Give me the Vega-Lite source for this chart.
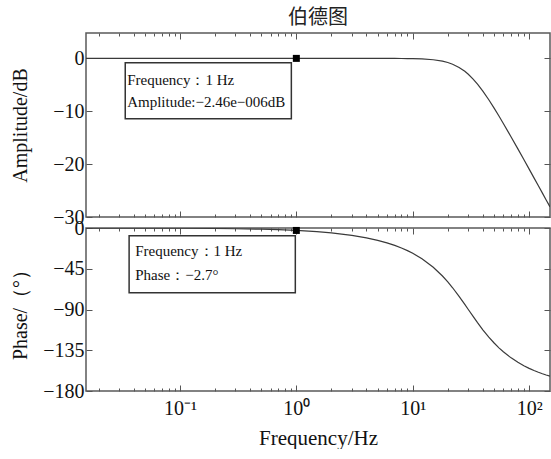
{
  "$schema": "https://vega.github.io/schema/vega-lite/v6.json",
  "background": "white",
  "padding": {"left": 9, "top": 6, "right": 0, "bottom": 0},
  "spacing": 11,
  "bounds": "flush",
  "config": {
    "view": {"stroke": "#5a5a5a", "strokeWidth": 1.5},
    "axis": {
      "domain": false, "grid": false, "tickColor": "#555", "tickWidth": 1,
      "labelFont": "Liberation Serif", "titleFont": "Liberation Serif",
      "labelColor": "#111", "titleColor": "#111",
      "labelFontSize": 20, "titleFontSize": 20, "titleFontWeight": "normal"
    }
  },
  "datasets": {
    "bode": [
      {"f": 0.0156, "amp": 0, "phase": -0.04},
      {"f": 0.02, "amp": 0, "phase": -0.05},
      {"f": 0.03, "amp": 0, "phase": -0.08},
      {"f": 0.05, "amp": 0, "phase": -0.14},
      {"f": 0.1, "amp": 0, "phase": -0.27},
      {"f": 0.2, "amp": 0, "phase": -0.54},
      {"f": 0.3, "amp": 0, "phase": -0.81},
      {"f": 0.5, "amp": 0, "phase": -1.35},
      {"f": 0.7, "amp": 0, "phase": -1.89},
      {"f": 1, "amp": 0, "phase": -2.70},
      {"f": 1.5, "amp": 0, "phase": -4.06},
      {"f": 2, "amp": 0, "phase": -5.41},
      {"f": 3, "amp": 0, "phase": -8.13},
      {"f": 4, "amp": -0.001, "phase": -10.87},
      {"f": 5, "amp": -0.003, "phase": -13.63},
      {"f": 6, "amp": -0.007, "phase": -16.42},
      {"f": 7, "amp": -0.013, "phase": -19.25},
      {"f": 8, "amp": -0.022, "phase": -22.11},
      {"f": 9, "amp": -0.035, "phase": -25.0},
      {"f": 10, "amp": -0.053, "phase": -27.94},
      {"f": 12, "amp": -0.110, "phase": -33.95},
      {"f": 15, "amp": -0.263, "phase": -43.31},
      {"f": 18, "amp": -0.530, "phase": -52.98},
      {"f": 20, "amp": -0.782, "phase": -59.51},
      {"f": 22, "amp": -1.104, "phase": -65.98},
      {"f": 25, "amp": -1.709, "phase": -75.47},
      {"f": 28, "amp": -2.453, "phase": -84.42},
      {"f": 30, "amp": -3.010, "phase": -90.0},
      {"f": 33, "amp": -3.917, "phase": -97.69},
      {"f": 36, "amp": -4.877, "phase": -104.53},
      {"f": 40, "amp": -6.192, "phase": -112.42},
      {"f": 45, "amp": -7.826, "phase": -120.51},
      {"f": 50, "amp": -9.403, "phase": -127.02},
      {"f": 55, "amp": -10.898, "phase": -132.32},
      {"f": 60, "amp": -12.304, "phase": -136.69},
      {"f": 70, "amp": -14.863, "phase": -143.41},
      {"f": 80, "amp": -17.124, "phase": -148.32},
      {"f": 90, "amp": -19.138, "phase": -152.06},
      {"f": 100, "amp": -20.950, "phase": -155.0},
      {"f": 110, "amp": -22.595, "phase": -157.38},
      {"f": 120, "amp": -24.099, "phase": -159.34},
      {"f": 130, "amp": -25.485, "phase": -160.98},
      {"f": 140, "amp": -26.770, "phase": -162.38},
      {"f": 151, "amp": -28.081, "phase": -163.70}
    ],
    "boxA": [{"x1": 0.0339, "x2": 0.906, "y1": -0.81, "y2": -11.41}],
    "textA": [
      {"x": 0.0352, "y": -4.03, "label": "Frequency：1 Hz"},
      {"x": 0.0352, "y": -8.19, "label": "Amplitude:−2.46e−006dB"}
    ],
    "markA": [{"f": 1, "amp": 0}],
    "boxB": [{"x1": 0.0366, "x2": 0.98, "y1": -8.5, "y2": -71.4}],
    "textB": [
      {"x": 0.0413, "y": -25, "label": "Frequency：1 Hz"},
      {"x": 0.0413, "y": -51.5, "label": "Phase：−2.7°"}
    ],
    "markB": [{"f": 1, "phase": -2.7}]
  },
  "vconcat": [
    {
      "width": 464,
      "height": 184,
      "title": {"text": "伯德图", "font": "Noto Sans CJK SC", "fontSize": 20, "fontWeight": "normal", "color": "#222", "frame": "group", "anchor": "middle", "offset": 5},
      "layer": [
        {
          "data": {"name": "bode"},
          "mark": {"type": "line", "color": "#3a3a3a", "strokeWidth": 1.2, "clip": true},
          "encoding": {
            "x": {"field": "f", "type": "quantitative",
              "scale": {"type": "log", "domain": [0.0156, 151], "nice": false},
              "axis": {"orient": "bottom", "labels": false, "title": null, "minExtent": 0, "maxExtent": 0,
                "values": [0.02,0.03,0.04,0.05,0.06,0.07,0.08,0.09,0.1,0.2,0.3,0.4,0.5,0.6,0.7,0.8,0.9,1,2,3,4,5,6,7,8,9,10,20,30,40,50,60,70,80,90,100],
                "tickSize": {"condition": {"test": "datum.value == 0.1 || datum.value == 1 || datum.value == 10 || datum.value == 100", "value": -6}, "value": -3}}},
            "y": {"field": "amp", "type": "quantitative",
              "scale": {"domain": [-30, 4.8], "nice": false, "zero": false},
              "axis": {"orient": "left", "values": [-30, -20, -10, 0], "tickSize": -6, "labelPadding": 8,
                "title": "Amplitude/dB", "titlePadding": 8, "minExtent": 48, "maxExtent": 48}}
          }
        },
        {
          "data": {"name": "boxA"},
          "mark": {"type": "rect", "fill": "white", "stroke": "#333", "strokeWidth": 1.5},
          "encoding": {
            "x": {"field": "x1", "type": "quantitative", "axis": null},
            "x2": {"field": "x2"},
            "y": {"field": "y1", "type": "quantitative", "axis": null},
            "y2": {"field": "y2"}
          }
        },
        {
          "data": {"name": "textA"},
          "mark": {"type": "text", "align": "left", "baseline": "middle", "font": "Liberation Serif", "fontSize": 15, "color": "#111"},
          "encoding": {
            "x": {"field": "x", "type": "quantitative", "axis": null},
            "y": {"field": "y", "type": "quantitative", "axis": null},
            "text": {"field": "label"}
          }
        },
        {
          "data": {"name": "markA"},
          "mark": {"type": "square", "size": 49, "color": "black", "filled": true, "opacity": 1},
          "encoding": {
            "x": {"field": "f", "type": "quantitative",
              "axis": {"orient": "top", "labels": false, "title": null, "minExtent": 0, "maxExtent": 0,
                "values": [0.02,0.03,0.04,0.05,0.06,0.07,0.08,0.09,0.1,0.2,0.3,0.4,0.5,0.6,0.7,0.8,0.9,1,2,3,4,5,6,7,8,9,10,20,30,40,50,60,70,80,90,100],
                "tickSize": {"condition": {"test": "datum.value == 0.1 || datum.value == 1 || datum.value == 10 || datum.value == 100", "value": -6}, "value": -3}}},
            "y": {"field": "amp", "type": "quantitative",
              "axis": {"orient": "right", "labels": false, "title": null, "values": [-30, -20, -10, 0], "tickSize": -6, "minExtent": 0, "maxExtent": 0}}
          }
        }
      ],
      "resolve": {"axis": {"x": "independent", "y": "independent"}}
    },
    {
      "width": 464,
      "height": 163,
      "layer": [
        {
          "data": {"name": "bode"},
          "mark": {"type": "line", "color": "#3a3a3a", "strokeWidth": 1.2, "clip": true},
          "encoding": {
            "x": {"field": "f", "type": "quantitative",
              "scale": {"type": "log", "domain": [0.0156, 151], "nice": false},
              "axis": {"orient": "bottom", "title": "Frequency/Hz", "titleFontSize": 21, "titlePadding": 6, "labelPadding": 13,
                "labelOverlap": false, "labelFlush": false,
                "values": [0.02,0.03,0.04,0.05,0.06,0.07,0.08,0.09,0.1,0.2,0.3,0.4,0.5,0.6,0.7,0.8,0.9,1,2,3,4,5,6,7,8,9,10,20,30,40,50,60,70,80,90,100],
                "labelExpr": "datum.value == 0.1 ? '10⁻¹' : datum.value == 1 ? '10⁰' : datum.value == 10 ? '10¹' : datum.value == 100 ? '10²' : ''",
                "tickSize": {"condition": {"test": "datum.value == 0.1 || datum.value == 1 || datum.value == 10 || datum.value == 100", "value": -6}, "value": -3}}},
            "y": {"field": "phase", "type": "quantitative",
              "scale": {"domain": [-180, 0], "nice": false},
              "axis": {"orient": "left", "values": [-180, -135, -90, -45, 0], "tickSize": -6, "labelPadding": 8,
                "title": "Phase/（°）", "titlePadding": 8, "minExtent": 48, "maxExtent": 48}}
          }
        },
        {
          "data": {"name": "boxB"},
          "mark": {"type": "rect", "fill": "white", "stroke": "#333", "strokeWidth": 1.5},
          "encoding": {
            "x": {"field": "x1", "type": "quantitative", "axis": null},
            "x2": {"field": "x2"},
            "y": {"field": "y1", "type": "quantitative", "axis": null},
            "y2": {"field": "y2"}
          }
        },
        {
          "data": {"name": "textB"},
          "mark": {"type": "text", "align": "left", "baseline": "middle", "font": "Liberation Serif", "fontSize": 15, "color": "#111"},
          "encoding": {
            "x": {"field": "x", "type": "quantitative", "axis": null},
            "y": {"field": "y", "type": "quantitative", "axis": null},
            "text": {"field": "label"}
          }
        },
        {
          "data": {"name": "markB"},
          "mark": {"type": "square", "size": 49, "color": "black", "filled": true, "opacity": 1},
          "encoding": {
            "x": {"field": "f", "type": "quantitative",
              "axis": {"orient": "top", "labels": false, "title": null, "minExtent": 0, "maxExtent": 0,
                "values": [0.02,0.03,0.04,0.05,0.06,0.07,0.08,0.09,0.1,0.2,0.3,0.4,0.5,0.6,0.7,0.8,0.9,1,2,3,4,5,6,7,8,9,10,20,30,40,50,60,70,80,90,100],
                "tickSize": {"condition": {"test": "datum.value == 0.1 || datum.value == 1 || datum.value == 10 || datum.value == 100", "value": -6}, "value": -3}}},
            "y": {"field": "phase", "type": "quantitative",
              "axis": {"orient": "right", "labels": false, "title": null, "values": [-180, -135, -90, -45, 0], "tickSize": -6, "minExtent": 0, "maxExtent": 0}}
          }
        }
      ],
      "resolve": {"axis": {"x": "independent", "y": "independent"}}
    }
  ]
}
